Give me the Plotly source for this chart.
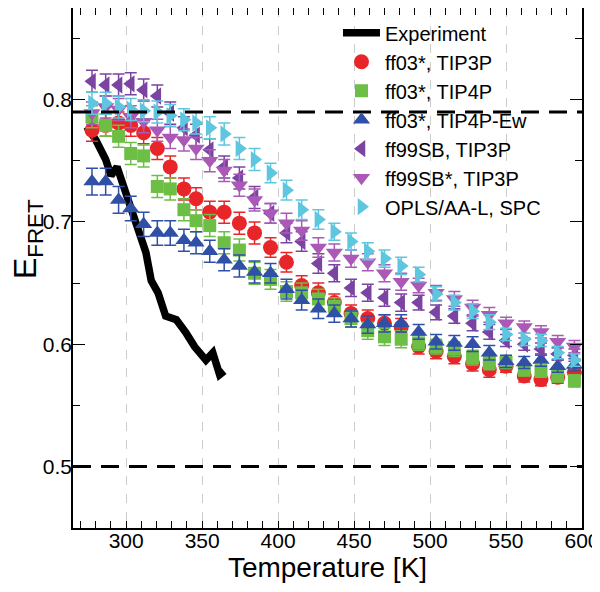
import plotly.graph_objects as go

# ---------------- data ----------------
T = [277.5, 286.5, 295, 303, 311.5, 320.5, 329, 338, 346, 355, 364.5, 374.5, 384.5,
     395, 405.5, 415.5, 426.5, 437, 448, 459, 470, 481, 492.5, 504, 516, 528, 539,
     550, 562, 573, 584, 595]

ff03_tip3p = [0.775, 0.779, 0.781, 0.779, 0.773, 0.760, 0.745, 0.727, 0.719, 0.708, 0.708,
              0.699, 0.691, 0.679, 0.667, 0.648, 0.642, 0.634, 0.625, 0.621, 0.617, 0.614,
              0.598, 0.594, 0.590, 0.584, 0.579, 0.582, 0.574, 0.571, 0.573, 0.577]
ff03_tip4p = [0.786, 0.779, 0.770, 0.756, 0.754, 0.729, 0.727, 0.710, 0.701, 0.697, 0.683,
              0.677, 0.658, 0.653, 0.643, 0.642, 0.637, 0.631, 0.621, 0.611, 0.606, 0.604,
              0.601, 0.598, 0.596, 0.589, 0.585, 0.585, 0.579, 0.578, 0.574, 0.570]
ff03_tip4pew = [0.733, 0.733, 0.718, 0.711, 0.698, 0.691, 0.691, 0.685, 0.683, 0.676, 0.669,
                0.664, 0.659, 0.658, 0.645, 0.636, 0.629, 0.625, 0.621, 0.616, 0.617, 0.617,
                0.610, 0.602, 0.601, 0.600, 0.593, 0.586, 0.585, 0.587, 0.582, 0.583]
ff99sb_tip3p = [0.815, 0.812, 0.812, 0.813, 0.808, 0.803, 0.789, 0.777, 0.771, 0.759, 0.745,
                0.736, 0.720, 0.707, 0.691, 0.684, 0.666, 0.658, 0.646, 0.642, 0.638, 0.634,
                0.634, 0.626, 0.623, 0.617, 0.610, 0.603, 0.600, 0.596, 0.592, 0.591]
ff99sbs_tip3p = [0.789, 0.794, 0.792, 0.786, 0.782, 0.775, 0.769, 0.767, 0.760, 0.750, 0.742,
                 0.730, 0.718, 0.707, 0.699, 0.693, 0.679, 0.675, 0.670, 0.667, 0.658, 0.651,
                 0.648, 0.642, 0.637, 0.630, 0.624, 0.617, 0.614, 0.610, 0.602, 0.598]
opls_spc = [0.797, 0.797, 0.794, 0.792, 0.791, 0.790, 0.787, 0.7835, 0.781, 0.777, 0.772,
            0.760, 0.751, 0.740, 0.726, 0.710, 0.702, 0.692, 0.684, 0.676, 0.670, 0.664,
            0.657, 0.641, 0.634, 0.627, 0.618, 0.608, 0.604, 0.603, 0.593, 0.587]

err_hi = [0.009, 0.009, 0.009, 0.009, 0.009, 0.009, 0.009, 0.009, 0.009, 0.009, 0.009,
          0.009, 0.009, 0.008, 0.008, 0.008, 0.008, 0.007, 0.007, 0.007, 0.007, 0.007,
          0.006, 0.006, 0.006, 0.006, 0.006, 0.005, 0.005, 0.005, 0.005, 0.005]
err_ew = [0.011, 0.011, 0.011, 0.010, 0.010, 0.010, 0.010, 0.009, 0.009, 0.009, 0.009,
          0.009, 0.009, 0.008, 0.008, 0.008, 0.008, 0.007, 0.007, 0.007, 0.007, 0.007,
          0.006, 0.006, 0.006, 0.006, 0.006, 0.005, 0.005, 0.005, 0.005, 0.005]

T_exp = [274, 280, 286.5, 290, 294, 297.5, 301, 305, 309.5, 313, 316.5, 321, 326, 333,
         339.5, 345, 352.5, 357, 361.5, 364.5]
E_exp = [0.778, 0.767, 0.751, 0.738, 0.745, 0.732, 0.718, 0.704, 0.691, 0.675, 0.652,
         0.642, 0.623, 0.620, 0.609, 0.598, 0.587, 0.593, 0.575, 0.578]

ref_levels = [0.79, 0.5]

series = [
    ("ff03*, TIP3P", ff03_tip3p, err_hi, "circle", "#E8262A", 15),
    ("ff03*, TIP4P", ff03_tip4p, err_hi, "square", "#6DBE45", 13),
    ("ff03*, TIP4P-Ew", ff03_tip4pew, err_ew, "triangle-up", "#2F50A6", 15),
    ("ff99SB, TIP3P", ff99sb_tip3p, err_hi, "triangle-left", "#7B44A3", 15),
    ("ff99SB*, TIP3P", ff99sbs_tip3p, err_hi, "triangle-down", "#AA5AB6", 15),
    ("OPLS/AA-L, SPC", opls_spc, err_hi, "triangle-right", "#5EC6DF", 15),
]

FONT = "Liberation Sans, Arial, Helvetica, sans-serif"

fig = go.Figure()
fig.add_trace(go.Scatter(x=T_exp, y=E_exp, mode="lines", name="Experiment",
                         line=dict(color="black", width=7.5)))
for name, vals, err, sym, col, sz in series:
    fig.add_trace(go.Scatter(
        x=T, y=vals, mode="markers", name=name,
        marker=dict(symbol=sym, color=col, size=sz, line=dict(width=0)),
        error_y=dict(type="data", array=err, visible=True, color=col,
                     thickness=1.5, width=6)))

for lv in ref_levels:
    fig.add_shape(type="line", xref="paper", yref="y", x0=0, x1=1, y0=lv, y1=lv,
                  line=dict(color="black", width=3, dash="18px,10px"), layer="above")

fig.add_annotation(text="E<sub>FRET</sub>", xref="paper", yref="paper",
                   x=-0.088, y=0.556, textangle=-90, showarrow=False,
                   font=dict(size=32), xanchor="center", yanchor="middle")

fig.update_layout(
    width=600, height=592,
    margin=dict(l=65, r=26, t=0, b=72, autoexpand=False),
    paper_bgcolor="white", plot_bgcolor="white",
    font=dict(family=FONT, color="black", size=21),
    showlegend=True,
    legend=dict(x=0.5206, y=0.990, xanchor="left", yanchor="top",
                bgcolor="rgba(0,0,0,0)", font=dict(size=20), itemwidth=37,
                tracegroupgap=0),
)
fig.update_xaxes(
    range=[265, 600], tickmode="array", tickvals=[300, 350, 400, 450, 500, 550, 600],
    ticks="inside", ticklen=7, tickcolor="black", tickwidth=1,
    minor=dict(dtick=10, tick0=0, ticks="inside", ticklen=7, tickcolor="black", showgrid=False),
    showline=True, linecolor="black", linewidth=1.5, mirror="allticks",
    showgrid=True, gridcolor="#cccccc", griddash="dash", gridwidth=1,
    zeroline=False, tickfont=dict(size=21), ticklabelstandoff=-7, automargin=False,
    title=dict(text="Temperature [K]", font=dict(size=28), standoff=2),
)
fig.update_yaxes(
    range=[0.4496, 0.875], tickmode="array", tickvals=[0.5, 0.6, 0.7, 0.8],
    ticks="inside", ticklen=12, tickcolor="black", tickwidth=1,
    minor=dict(dtick=0.05, tick0=0, ticks="inside", ticklen=7, tickcolor="black", showgrid=False),
    showline=True, linecolor="black", linewidth=1.5, mirror="allticks",
    showgrid=False, zeroline=False, tickfont=dict(size=21), ticklabelstandoff=-5,
    automargin=False,
)

fig.write_html("out.html")
